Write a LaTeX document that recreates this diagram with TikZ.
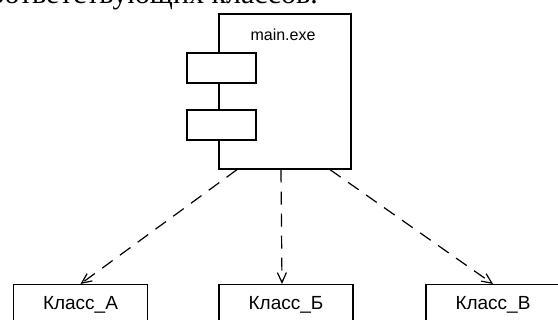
\documentclass[tikz,border=0pt]{standalone}
\usepackage{fontspec}
\setmainfont{Liberation Serif}
\setsansfont{Liberation Sans}
\usetikzlibrary{arrows.meta}

\begin{document}
\begin{tikzpicture}[
    x=1pt, y=-1pt,
    font=\sffamily,
    comp/.style={rectangle, draw, line width=1.3pt, minimum width=132pt,
                 minimum height=155pt, inner sep=0pt},
    port/.style={rectangle, draw, fill=white, line width=1.3pt,
                 minimum width=69pt, minimum height=30pt, inner sep=0pt},
    klass/.style={rectangle, draw, line width=1.3pt, minimum width=134pt,
                  anchor=north, inner ysep=5pt, text height=20pt, text depth=30pt,
                  font=\sffamily\fontsize{19}{19}\selectfont},
    dep/.style={-{Straight Barb[length=10pt, width=9pt]}, line width=1.2pt,
                dash pattern=on 13pt off 9pt}
  ]
  \useasboundingbox (0,0) rectangle (558,320);
  \clip (0,0) rectangle (558,320);

  % text of the page, cut at the top
  \node[anchor=base east, inner sep=0pt, font=\rmfamily\fontsize{30}{30}\selectfont]
        (txt) at (318,4) {соответствующих классов.};

  % component
  \node[comp] (main) at (285,91.5) {};
  \node[font=\sffamily\fontsize{16}{16}\selectfont] (mainname) at (283,35) {main.exe};
  \node[port] (p1) at (221.5,68) {};
  \node[port] (p2) at (221.5,125) {};

  % classes
  \node[klass] (ka) at (80.5,284) {Класс\_А};
  \node[klass] (kb) at (286,284)  {Класс\_Б};
  \node[klass] (kv) at (493,284)  {Класс\_В};

  % dependencies
  \draw[dep] ([xshift=-48pt]main.south) -- (ka.north);
  \draw[dep] ([xshift=-4pt]main.south)  -- ([xshift=-4pt]kb.north);
  \draw[dep] ([xshift=45pt]main.south)  -- (kv.north);
\end{tikzpicture}
\end{document}
